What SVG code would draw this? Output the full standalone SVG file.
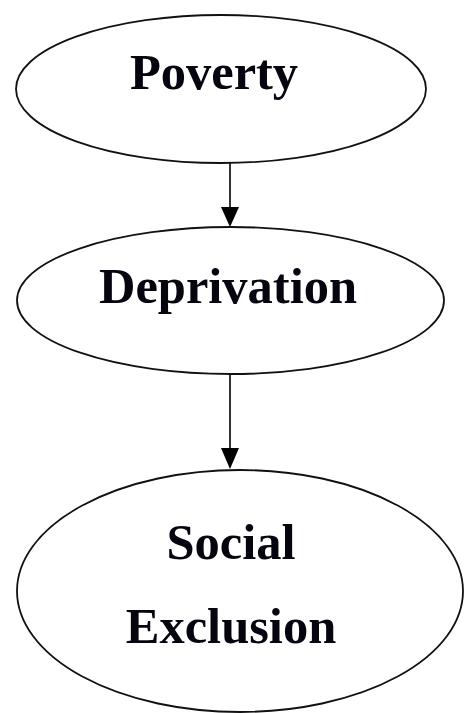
<svg xmlns="http://www.w3.org/2000/svg" width="465" height="713" viewBox="0 0 465 713">
<style>
.node ellipse{fill:#fff;stroke:#111;stroke-width:1.8}
.node text{font-family:"Liberation Serif","Times New Roman",serif;font-weight:bold;font-size:50.5px;fill:#05050f;text-anchor:middle}
.edge{stroke:#000;stroke-width:1.6;fill:none}
</style>
<rect width="465" height="713" fill="#fff"/>
<g id="connectors">
<path class="edge" d="M230,163 L230,207"/>
<path d="M221,207 L239,207 L230,227 Z" fill="#000"/>
<path class="edge" d="M230,374 L230,448"/>
<path d="M221,448 L239,448 L230,469 Z" fill="#000"/>
</g>
<g id="poverty" class="node">
<ellipse cx="221" cy="89" rx="205" ry="74"/>
<text x="214" y="89">Poverty</text>
</g>
<g id="deprivation" class="node">
<ellipse cx="230.5" cy="300.5" rx="213.5" ry="73.5"/>
<text x="228" y="303">Deprivation</text>
</g>
<g id="social-exclusion" class="node">
<ellipse cx="240" cy="591" rx="223" ry="121"/>
<text x="231" y="559">Social</text>
<text x="231" y="643">Exclusion</text>
</g>
</svg>
